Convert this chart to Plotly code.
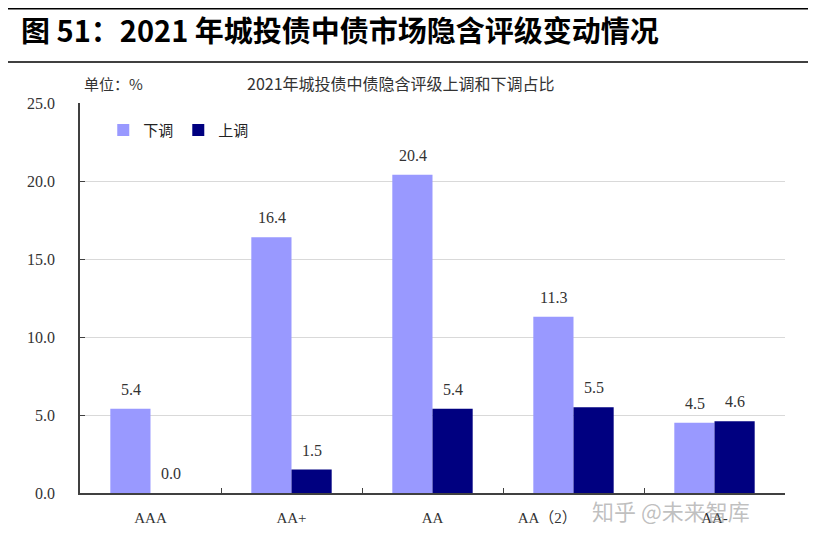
import plotly.graph_objects as go

categories = ["AAA", "AA+", "AA", "AA（2）", "AA-"]
down_vals = [5.4, 16.4, 20.4, 11.3, 4.5]
up_vals = [0.0, 1.5, 5.4, 5.5, 4.6]
y_ticks = [0, 5, 10, 15, 20, 25]
y_tick_text = ["0.0", "5.0", "10.0", "15.0", "20.0", "25.0"]
x_tick_text = ["AAA", "AA+", "AA", "AA（2）\u00a0\u00a0\u00a0\u00a0\u00a0\u00a0\u00a0\u00a0\u00a0\u00a0\u00a0\u00a0\u00a0\u00a0", "AA-"]

num_font = "Liberation Serif, Noto Sans CJK SC, serif"
cjk_font = "Noto Sans CJK SC"
DOWN_COLOR = "#9999FF"
UP_COLOR = "#000080"

fig = go.Figure()
fig.add_trace(go.Bar(
    x=categories, y=down_vals, name="下调",
    marker=dict(color=DOWN_COLOR, line=dict(width=0)),
))
fig.add_trace(go.Bar(
    x=categories, y=up_vals, name="上调",
    marker=dict(color=UP_COLOR, line=dict(width=0)),
))

# value labels above bars (positioned in data coordinates)
for vals, shift in ((down_vals, -20), (up_vals, 20)):
    for cat, v in zip(categories, vals):
        fig.add_annotation(
            x=cat, y=v, xref="x", yref="y", text=f"{v:.1f}",
            showarrow=False, xshift=shift, yanchor="bottom", yshift=9,
            font=dict(size=16, family=num_font, color="#333333"),
        )

fig.update_layout(
    width=816, height=540,
    paper_bgcolor="white", plot_bgcolor="white",
    margin=dict(l=72, r=39, t=95, b=55),
    barmode="group", bargap=0.43, bargroupgap=0,
    font=dict(family=num_font, color="#333333"),
    showlegend=True,
    legend=dict(
        orientation="h", x=0.033, y=0.93, xanchor="left", yanchor="middle",
        font=dict(size=15, family=cjk_font, color="#222222"),
        bgcolor="rgba(0,0,0,0)", itemwidth=30, traceorder="normal",
    ),
)

fig.update_yaxes(
    range=[0, 25], tickvals=y_ticks, ticktext=y_tick_text,
    showgrid=True, gridcolor="#D9D9D9", gridwidth=1,
    showline=True, linecolor="#404040", linewidth=1.5,
    ticks="inside", ticklen=5, tickcolor="#404040",
    tickfont=dict(size=16, family=num_font, color="#333333"),
    ticklabelstandoff=20, zeroline=False,
)
fig.update_xaxes(
    tickvals=categories, ticktext=x_tick_text,
    showline=True, linecolor="#404040", linewidth=1.5,
    ticks="inside", ticklen=5, tickcolor="#404040", tickson="boundaries",
    tickfont=dict(size=15, family=num_font, color="#333333"),
    ticklabelstandoff=10,
)

# Header title
fig.add_annotation(
    text="<b>图 51：2021 年城投债中债市场隐含评级变动情况</b>",
    xref="paper", yref="paper", x=-0.0865, y=1.0, xanchor="left", yanchor="middle",
    yshift=74, showarrow=False,
    font=dict(size=29, family=cjk_font, color="#000000"),
)
fig.add_annotation(
    text="单位：%", xref="paper", yref="paper", x=0.003, y=1.0,
    xanchor="left", yanchor="middle", yshift=20, showarrow=False,
    font=dict(size=15, family=cjk_font, color="#333333"),
)
fig.add_annotation(
    text="2021年城投债中债隐含评级上调和下调占比", xref="paper", yref="paper",
    x=0.234, y=1.0, xanchor="left", yanchor="middle", yshift=20, showarrow=False,
    font=dict(size=16, family=cjk_font, color="#333333"),
)
fig.add_annotation(
    text="知乎 @未来智库", xref="paper", yref="paper", x=0.723, y=0.0,
    xanchor="left", yanchor="middle", yshift=-17, showarrow=False,
    font=dict(size=22, family=cjk_font, color="rgba(150,150,150,0.6)"),
)
fig.add_annotation(
    text="•", xref="paper", yref="paper", x=1.034, y=0.0,
    xanchor="left", yanchor="middle", yshift=-36, showarrow=False,
    font=dict(size=14, color="#000000"),
)

fig.update_layout(shapes=[
    dict(type="line", xref="paper", yref="paper", x0=-0.12, x1=1.07, y0=1.2415, y1=1.2415,
         line=dict(color="#000000", width=1.5)),
    dict(type="line", xref="paper", yref="paper", x0=-0.12, x1=1.07, y0=1.105, y1=1.105,
         line=dict(color="#000000", width=1.5)),
])

fig.write_html("out.html")
